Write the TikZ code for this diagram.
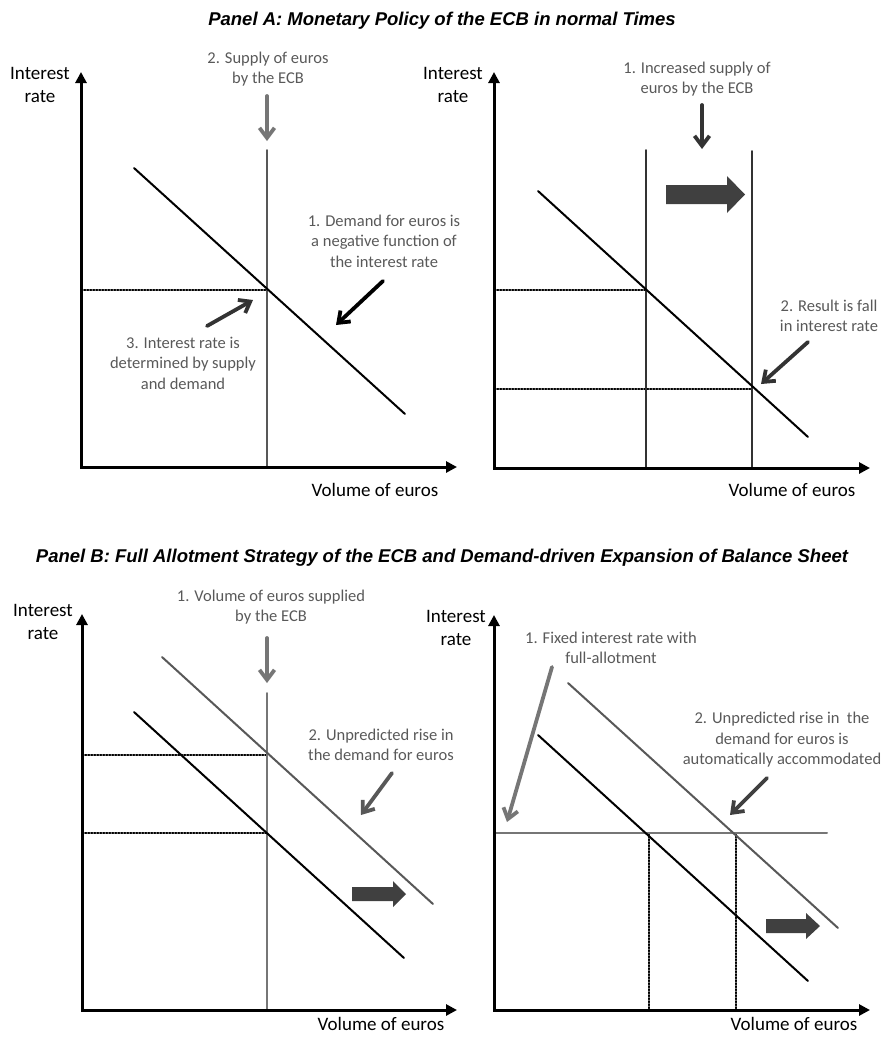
\documentclass[tikz,border=0pt]{standalone}
\usepackage{fontspec}
\setmainfont{Carlito}
\newfontfamily\titlefont{Liberation Sans}
\usepackage{xcolor}
\usetikzlibrary{arrows.meta}
\definecolor{notegray}{RGB}{89,89,89}
\definecolor{linegray}{RGB}{88,88,88}
\definecolor{darkline}{RGB}{51,51,51}
\definecolor{blockgray}{RGB}{64,64,64}
\definecolor{softgray}{RGB}{118,118,118}
\tikzset{
    axis/.style={line width=3pt,line join=miter,{Triangle[length=11pt,width=11pt]}-{Triangle[length=11pt,width=11pt]}},
    demand/.style={line width=2pt},
    supply/.style={line width=2pt,color=linegray},
    guide/.style={line width=1.5pt,dash pattern=on 1.5pt off 1.5pt},
    note/.style={text=notegray,align=center,font=\fontsize{16.5}{20.5}\selectfont},
    axislabel/.style={align=center,font=\fontsize{19}{23.5}\selectfont},
    pointer/.style={line width=3.8pt,-{Straight Barb[length=10pt,width=15pt]}},
    block/.style={fill=blockgray},
    paneltitle/.style={font=\titlefont\bfseries\itshape\fontsize{18.5}{22}\selectfont}
}
\begin{document}
\begin{tikzpicture}[line cap=round,line join=round,x=1pt,y=-1pt]
    \useasboundingbox (0,0) rectangle (885,1037);
    % Panel A, left
    \node[paneltitle] (titleA) at (442,21) {Panel A: Monetary Policy of the ECB in normal Times};
    \coordinate (la-o) at (81,467);
    \coordinate (la-y) at (81,72);
    \coordinate (la-x) at (457,467);
    \coordinate (la-stop) at (267,150);
    \coordinate (la-sbot) at (267,467);
    \coordinate (la-d1) at (134,168);
    \coordinate (la-d2) at (405,414);
    \coordinate (la-eq) at (267,290);
    \coordinate (la-eqy) at (81,290);
    \draw [guide] (la-eqy)-- (la-eq);
    \draw [supply] (la-stop)-- (la-sbot);
    \draw [demand] (la-d1)-- (la-d2);
    \draw [axis] (la-y)-- (la-o)-- (la-x);
    \node[axislabel] (la-ylab) at (40,85) {Interest\\rate};
    \node[axislabel] (la-xlab) at (375,490) {Volume of euros};
    \node[note] (la-n2) at (268,69) {2. Supply of euros\\by the ECB};
    \node[note] (la-n1) at (384,241) {1. Demand for euros is\\a negative function of\\the interest rate};
    \node[note] (la-n3) at (183,363) {3. Interest rate is\\determined by supply\\and demand};
    \coordinate (la-p2a) at (267,96);
    \coordinate (la-p2b) at (267,141);
    \coordinate (la-p1a) at (383,281);
    \coordinate (la-p1b) at (336,325);
    \coordinate (la-p3a) at (207,326);
    \coordinate (la-p3b) at (253,300);
    \draw [pointer,color=softgray] (la-p2a)-- (la-p2b);
    \draw [pointer,color=black] (la-p1a)-- (la-p1b);
    \draw [pointer,color=darkline] (la-p3a)-- (la-p3b);
    % Panel A, right
    \coordinate (ra-o) at (494,468);
    \coordinate (ra-y) at (494,72);
    \coordinate (ra-x) at (870,468);
    \coordinate (ra-s1top) at (646,150);
    \coordinate (ra-s1bot) at (646,468);
    \coordinate (ra-s2top) at (752,151);
    \coordinate (ra-s2bot) at (752,468);
    \coordinate (ra-d1) at (538,191);
    \coordinate (ra-d2) at (808,437);
    \coordinate (ra-eq1) at (646,290);
    \coordinate (ra-eq1y) at (494,290);
    \coordinate (ra-eq2) at (752,389);
    \coordinate (ra-eq2y) at (494,389);
    \draw [guide] (ra-eq1y)-- (ra-eq1);
    \draw [guide] (ra-eq2y)-- (ra-eq2);
    \draw [supply,color=darkline] (ra-s1top)-- (ra-s1bot);
    \draw [supply,color=darkline] (ra-s2top)-- (ra-s2bot);
    \draw [demand] (ra-d1)-- (ra-d2);
    \draw [axis] (ra-y)-- (ra-o)-- (ra-x);
    \fill [block] (666,185)-- (727,185)-- (727,176)-- (745,194.5)-- (727,213)-- (727,204)-- (666,204)-- cycle;
    \node[axislabel] (ra-ylab) at (453,85) {Interest\\rate};
    \node[axislabel] (ra-xlab) at (792,490) {Volume of euros};
    \node[note] (ra-n1) at (697,79) {1. Increased supply of\\euros by the ECB};
    \node[note] (ra-n2) at (829,316) {2. Result is fall\\in interest rate};
    \coordinate (ra-p1a) at (702,105);
    \coordinate (ra-p1b) at (702,149);
    \coordinate (ra-p2a) at (808,342);
    \coordinate (ra-p2b) at (761,384);
    \draw [pointer,color=darkline] (ra-p1a)-- (ra-p1b);
    \draw [pointer,color=darkline] (ra-p2a)-- (ra-p2b);
    % Panel B, left
    \node[paneltitle] (titleB) at (442,558) {Panel B: Full Allotment Strategy of the ECB and Demand-driven Expansion of Balance Sheet};
    \coordinate (lb-o) at (82,1010);
    \coordinate (lb-y) at (82,614);
    \coordinate (lb-x) at (457,1010);
    \coordinate (lb-stop) at (267,693);
    \coordinate (lb-sbot) at (267,1010);
    \coordinate (lb-d1) at (134,712);
    \coordinate (lb-d2) at (404,958);
    \coordinate (lb-e1) at (162,657);
    \coordinate (lb-e2) at (433,904);
    \coordinate (lb-eq1) at (267,833);
    \coordinate (lb-eq1y) at (82,833);
    \coordinate (lb-eq2) at (267,755);
    \coordinate (lb-eq2y) at (82,755);
    \draw [guide] (lb-eq1y)-- (lb-eq1);
    \draw [guide] (lb-eq2y)-- (lb-eq2);
    \draw [supply,color=softgray] (lb-stop)-- (lb-sbot);
    \draw [demand,color=linegray] (lb-e1)-- (lb-e2);
    \draw [demand] (lb-d1)-- (lb-d2);
    \draw [axis] (lb-y)-- (lb-o)-- (lb-x);
    \fill [block] (352,887)-- (393,887)-- (393,881)-- (406,894)-- (393,907)-- (393,901)-- (352,901)-- cycle;
    \node[axislabel] (lb-ylab) at (43,622) {Interest\\rate};
    \node[axislabel] (lb-xlab) at (381,1024) {Volume of euros};
    \node[note] (lb-n1) at (271,607) {1. Volume of euros supplied\\by the ECB};
    \node[note] (lb-n2) at (381,745) {2. Unpredicted rise in\\the demand for euros};
    \coordinate (lb-p1a) at (267,638);
    \coordinate (lb-p1b) at (267,683);
    \coordinate (lb-p2a) at (392,773);
    \coordinate (lb-p2b) at (361,815);
    \draw [pointer,color=softgray] (lb-p1a)-- (lb-p1b);
    \draw [pointer,color=linegray] (lb-p2a)-- (lb-p2b);
    % Panel B, right
    \coordinate (rb-o) at (494,1010);
    \coordinate (rb-y) at (494,615);
    \coordinate (rb-x) at (870,1010);
    \coordinate (rb-fix1) at (494,833);
    \coordinate (rb-fix2) at (827,833);
    \coordinate (rb-d1) at (538,735);
    \coordinate (rb-d2) at (808,981);
    \coordinate (rb-e1) at (568,683);
    \coordinate (rb-e2) at (838,928);
    \coordinate (rb-q1) at (649,833);
    \coordinate (rb-q1x) at (649,1010);
    \coordinate (rb-q2) at (736,833);
    \coordinate (rb-q2x) at (736,1010);
    \draw [guide] (rb-q1)-- (rb-q1x);
    \draw [guide] (rb-q2)-- (rb-q2x);
    \draw [demand,color=softgray] (rb-fix1)-- (rb-fix2);
    \draw [demand,color=linegray] (rb-e1)-- (rb-e2);
    \draw [demand] (rb-d1)-- (rb-d2);
    \draw [axis] (rb-y)-- (rb-o)-- (rb-x);
    \fill [block] (766,919)-- (806,919)-- (806,913)-- (820,926)-- (806,939)-- (806,933)-- (766,933)-- cycle;
    \node[axislabel] (rb-ylab) at (456,628) {Interest\\rate};
    \node[axislabel] (rb-xlab) at (794,1024) {Volume of euros};
    \node[note] (rb-n1) at (611,648) {1. Fixed interest rate with\\full-allotment};
    \node[note] (rb-n2) at (782,740) {2. Unpredicted rise in\ \ the\\demand for euros is\\automatically accommodated};
    \coordinate (rb-p1a) at (552,667);
    \coordinate (rb-p1b) at (507,822);
    \coordinate (rb-p2a) at (767,778);
    \coordinate (rb-p2b) at (730,815);
    \draw [pointer,color=softgray] (rb-p1a)-- (rb-p1b);
    \draw [pointer,color=blockgray] (rb-p2a)-- (rb-p2b);
\end{tikzpicture}
\end{document}
